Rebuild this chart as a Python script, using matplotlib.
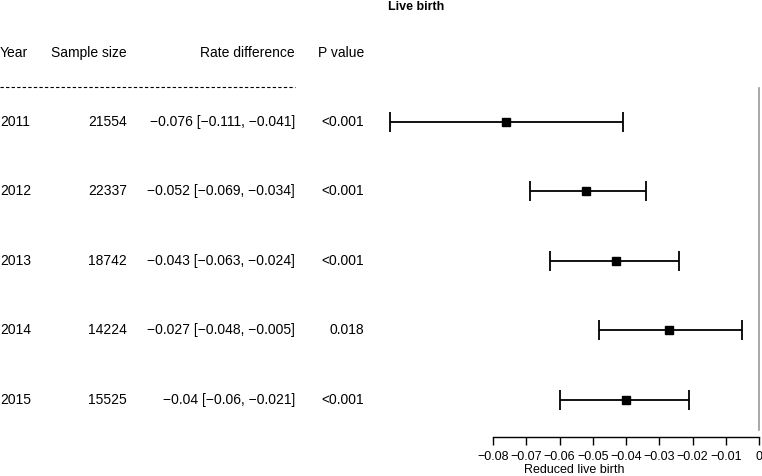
import numpy as np
import matplotlib.pyplot as plt
import matplotlib.transforms as mtransforms

plt.rcParams['font.family'] = ['Liberation Sans', 'DejaVu Sans']

# data
years = ["2011", "2012", "2013", "2014", "2015"]
sizes = ["21554", "22337", "18742", "14224", "15525"]
est = [-0.076, -0.052, -0.043, -0.027, -0.04]
lo = [-0.111, -0.069, -0.063, -0.048, -0.06]
hi = [-0.041, -0.034, -0.024, -0.005, -0.021]
pvals = ["<0.001", "<0.001", "<0.001", "0.018", "<0.001"]
rate_txt = ["\u22120.076 [\u22120.111, \u22120.041]",
            "\u22120.052 [\u22120.069, \u22120.034]",
            "\u22120.043 [\u22120.063, \u22120.024]",
            "\u22120.027 [\u22120.048, \u22120.005]",
            "\u22120.04 [\u22120.06, \u22120.021]"]
xticks = [-0.08, -0.07, -0.06, -0.05, -0.04, -0.03, -0.02, -0.01, 0]
xticklabels = ["\u22120.08", "\u22120.07", "\u22120.06", "\u22120.05", "\u22120.04",
               "\u22120.03", "\u22120.02", "\u22120.01", "0"]

W, H = 762, 476
fig = plt.figure(figsize=(W/100, H/100), dpi=100)

# forest panel, mapped so -0.08 -> px 493 and 0 -> px 759
ppu = (759 - 493) / 0.08
ax = fig.add_axes([380/W, 0, 382/W, 1])
ax.set_xlim(-0.08 - (493-380)/ppu, 3/ppu)
row = 69.5
ax.set_ylim((H-122)/row, -122/row)
ax.patch.set_visible(False)

y = np.arange(len(years))
ax.axvline(0, ymin=1-(430/H), ymax=1-(88/H), color="#999999", lw=1.2)
ax.errorbar(est, y, xerr=[np.array(est)-np.array(lo), np.array(hi)-np.array(est)],
            fmt="s", color="black", ms=5.8, lw=1.3, capsize=7.5, capthick=1.3)

for s in ["top", "right", "left"]:
    ax.spines[s].set_visible(False)
ax.spines["bottom"].set_bounds(-0.08, 0)
ax.spines["bottom"].set_position(("data", (437-122)/row))
ax.spines["bottom"].set_linewidth(1.0)
ax.set_yticks([])
ax.set_xticks(xticks)
ax.set_xticklabels(xticklabels, fontsize=9)
ax.tick_params(axis="x", length=6, width=1.0, pad=4)
ax.text((-0.111 + 0)/2, (470-122)/row, "Reduced live birth", ha="center", va="center", fontsize=9)

fig.text(416/W, 1-7/H, "Live birth", ha="center", va="center", fontsize=9, fontweight="bold")

# table columns
trans = mtransforms.blended_transform_factory(fig.transFigure, ax.transData)
fs = 10
hy = (53-122)/row
ax.text(0/W, hy, "Year", transform=trans, ha="left", va="center", fontsize=fs)
ax.text(127/W, hy, "Sample size", transform=trans, ha="right", va="center", fontsize=fs)
ax.text(295/W, hy, "Rate difference", transform=trans, ha="right", va="center", fontsize=fs)
ax.text(364/W, hy, "P value", transform=trans, ha="right", va="center", fontsize=fs)
ax.plot([0, 295/W], [(87-122)/row]*2, transform=trans, color="black", lw=0.8,
        ls=(0, (3, 2)), clip_on=False)

for i in range(len(years)):
    ax.text(0/W, i, years[i], transform=trans, ha="left", va="center", fontsize=fs)
    ax.text(127/W, i, sizes[i], transform=trans, ha="right", va="center", fontsize=fs)
    ax.text(295/W, i, rate_txt[i], transform=trans, ha="right", va="center", fontsize=fs)
    ax.text(364/W, i, pvals[i], transform=trans, ha="right", va="center", fontsize=fs)

fig.savefig("out.png", dpi=100)
